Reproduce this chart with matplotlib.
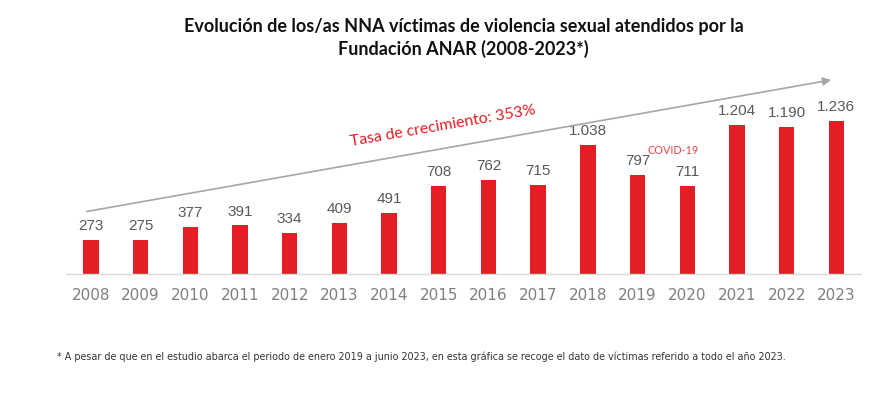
import matplotlib.pyplot as plt

# Datos: víctimas de violencia sexual atendidas por año
years = ["2008", "2009", "2010", "2011", "2012", "2013", "2014", "2015",
         "2016", "2017", "2018", "2019", "2020", "2021", "2022", "2023"]
victims = [273, 275, 377, 391, 334, 409, 491, 708,
           762, 715, 1038, 797, 711, 1204, 1190, 1236]
value_labels = ["273", "275", "377", "391", "334", "409", "491", "708",
                "762", "715", "1.038", "797", "711", "1.204", "1.190", "1.236"]

red = "#e31e24"

fig = plt.figure(figsize=(8.86, 3.97), dpi=100)
ax = fig.add_axes([0.0745, 0.31, 0.8975, 0.468])

xs = list(range(len(years)))
ax.bar(xs, victims, width=0.31, color=red, zorder=2)

for x, v, lab in zip(xs, victims, value_labels):
    ax.annotate(lab, (x, v), xytext=(0, 5), textcoords="offset points",
                ha="center", va="bottom", fontsize=11, color="#595959",
                family="Liberation Sans")

ax.set_xlim(-0.5, 15.5)
ax.set_ylim(0, 1500)
ax.set_xticks(xs)
ax.set_xticklabels(years, fontsize=11, color="#7f7f7f")
ax.tick_params(axis="x", length=0, pad=10)
ax.set_yticks([])
for side in ["left", "right", "top"]:
    ax.spines[side].set_visible(False)
ax.spines["bottom"].set_color("#d9d9d9")
ax.spines["bottom"].set_linewidth(1)

# flecha de tendencia
ax.annotate("", xy=(14.95, 1570), xytext=(-0.14, 500),
            arrowprops=dict(arrowstyle="-|>", color="#a6a6a6", lw=1.2,
                            mutation_scale=12),
            annotation_clip=False)
ax.text(7.09, 1195, "Tasa de crecimiento: 353%", color=red, fontsize=11.4,
        rotation=9.8, ha="center", va="center", rotation_mode="anchor",
        family="Lato")
ax.text(11.72, 1000, "COVID-19", color="#e8474c", fontsize=7.8,
        ha="center", va="center", family="Lato")

fig.text(0.523, 0.932, "Evolución de los/as NNA víctimas de violencia sexual atendidos por la",
         ha="center", va="center", fontsize=13, fontweight="bold", color="#111111",
         family="Lato")
fig.text(0.523, 0.877, "Fundación ANAR (2008-2023*)",
         ha="center", va="center", fontsize=13, fontweight="bold", color="#111111",
         family="Lato")

fig.text(0.064, 0.101,
         "* A pesar de que en el estudio abarca el periodo de enero 2019 a junio 2023, en esta gráfica "
         "se recoge el dato de víctimas referido a todo el año 2023.",
         ha="left", va="center", fontsize=6.95, color="#333333",
         family=["Liberation Sans Narrow", "DejaVu Sans"])

fig.savefig("out.png", dpi=100)
